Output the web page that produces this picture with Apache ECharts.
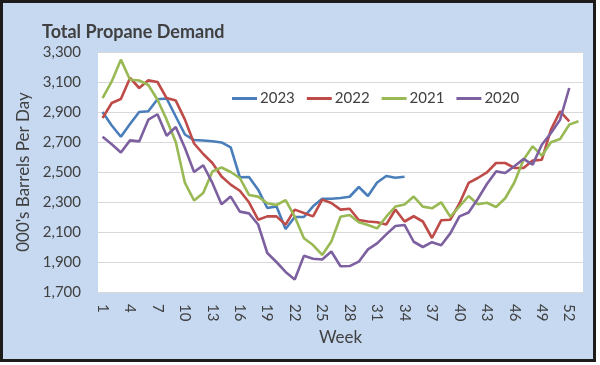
<!DOCTYPE html>
<html><head><meta charset="utf-8">
<script src="https://cdn.jsdelivr.net/npm/echarts@6/dist/echarts.min.js"></script>
<style>html,body{margin:0;padding:0;background:#fff}#c{width:600px;height:365px}</style>
</head><body><div id="c"></div>
<script>
const weeks = Array.from({length:53}, (_, i) => String(i + 1));
const seriesNames = ['2023', '2022', '2021', '2020'];
const y2023 = [2900,2810,2735,2820,2900,2905,2985,2990,2870,2750,2713,2710,2705,2697,2664,2465,2467,2382,2260,2271,2120,2200,2200,2271,2322,2322,2327,2335,2400,2340,2430,2473,2462,2468];
const y2022 = [2860,2960,2987,3127,3060,3111,3100,2993,2976,2849,2690,2620,2560,2470,2416,2375,2298,2182,2204,2204,2149,2249,2227,2204,2316,2293,2249,2255,2180,2170,2165,2150,2250,2170,2205,2170,2060,2178,2182,2290,2427,2460,2498,2560,2560,2527,2527,2576,2582,2782,2904,2838];
const y2021 = [2993,3104,3249,3115,3110,3080,2982,2849,2700,2427,2310,2360,2504,2530,2500,2460,2347,2336,2292,2280,2313,2202,2058,2013,1947,2036,2202,2213,2165,2147,2124,2202,2270,2283,2336,2269,2258,2298,2202,2270,2340,2285,2295,2267,2325,2430,2582,2671,2609,2698,2720,2816,2838];
const y2020 = [2735,2685,2630,2711,2704,2849,2885,2742,2800,2660,2500,2545,2427,2285,2336,2236,2224,2150,1960,1900,1834,1783,1941,1922,1917,1970,1872,1873,1902,1984,2024,2084,2140,2147,2035,2000,2032,2012,2091,2204,2230,2320,2420,2504,2493,2538,2587,2549,2682,2760,2849,3060];
const colors = ['#4A7EBB', '#BE4B48', '#98B954', '#7D60A0'];
const FONT = 'Lato, "Open Sans", sans-serif';

const chart = echarts.init(document.getElementById('c'), null, {renderer: 'canvas'});
const data = [y2023, y2022, y2021, y2020];
chart.setOption({
  animation: false,
  backgroundColor: '#fff',
  graphic: [{
    type: 'rect', z: -10, silent: true,
    shape: {x: 1.5, y: 1.5, width: 593, height: 359},
    style: {fill: '#C6D9F1', stroke: '#1c1c1c', lineWidth: 3}
  }],
  title: {
    text: 'Total Propane Demand', left: 37, top: 18,
    textStyle: {fontFamily: FONT, fontSize: 18, fontWeight: 'bold', color: '#404040'}
  },
  legend: {
    data: seriesNames, left: 227, top: 86, itemWidth: 25, itemHeight: 3, itemGap: 12,
    icon: 'rect',
    textStyle: {fontFamily: FONT, fontSize: 15, color: '#404040', padding: [0,0,0,-2]}
  },
  grid: {left: 98, right: 17, top: 52, bottom: 73, show: true, backgroundColor: '#fff', borderWidth: 0},
  xAxis: {
    type: 'category', data: weeks, boundaryGap: true,
    name: 'Week', nameLocation: 'middle', nameGap: 37,
    nameTextStyle: {fontFamily: FONT, fontSize: 17, color: '#404040'},
    axisLine: {lineStyle: {color: '#d9d9d9'}},
    axisTick: {show: false},
    axisLabel: {interval: 2, rotate: -90, fontFamily: FONT, fontSize: 15, color: '#404040', margin: 12}
  },
  yAxis: {
    type: 'value', min: 1700, max: 3300, interval: 200,
    name: "000's Barrels Per Day", nameLocation: 'middle', nameGap: 64,
    nameTextStyle: {fontFamily: FONT, fontSize: 17, color: '#404040'},
    axisLine: {show: false}, axisTick: {show: false},
    axisLabel: {fontFamily: FONT, fontSize: 15, color: '#404040', margin: 17,
      formatter: v => v.toLocaleString('en-US')},
    splitLine: {lineStyle: {color: '#d9d9d9', width: 1}}
  },
  series: seriesNames.map((n, i) => ({
    name: n, type: 'line', data: data[i], symbol: 'none', showSymbol: false,
    lineStyle: {width: 2.6, color: colors[i]}, itemStyle: {color: colors[i]}
  }))
});
</script></body></html>
